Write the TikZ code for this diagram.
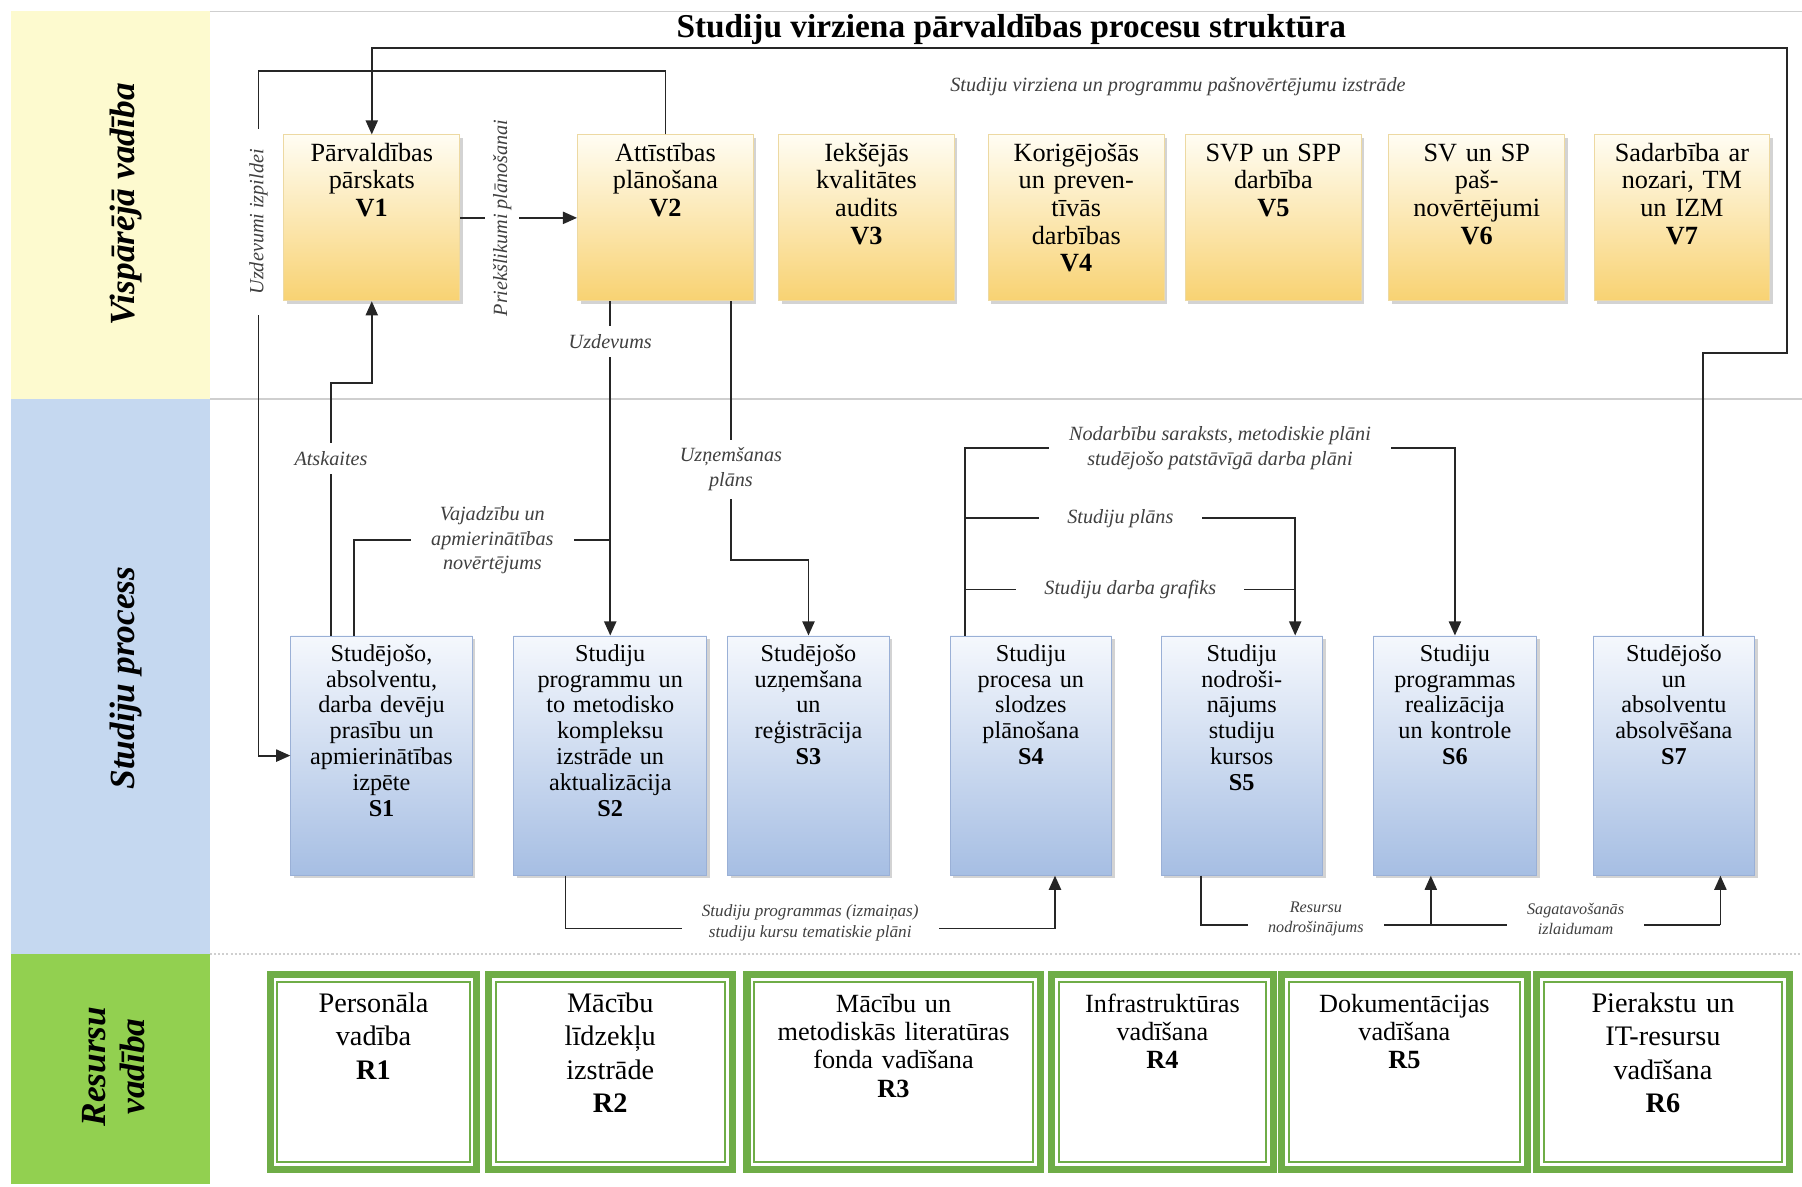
\documentclass[tikz,border=0pt]{standalone}
\usepackage{fontspec}
\setmainfont{Liberation Serif}
\usepackage{tikz}
\usetikzlibrary{positioning}
\usetikzlibrary{shadows}
\usetikzlibrary{arrows.meta}
\definecolor{bandY}{HTML}{FDFACF}
\definecolor{bandB}{HTML}{C5D8F0}
\definecolor{bandG}{HTML}{92D050}
\definecolor{vtop}{HTML}{FFFDF3}
\definecolor{vbot}{HTML}{F8D272}
\definecolor{vline}{HTML}{EDD9A2}
\definecolor{stop}{HTML}{F5F8FD}
\definecolor{sbot}{HTML}{A6BEE3}
\definecolor{sline}{HTML}{9AB0D6}
\definecolor{rgreen}{HTML}{6FAD47}
\definecolor{lbltext}{HTML}{404040}
\definecolor{sepc}{HTML}{CFCFCF}

\begin{document}
\begin{tikzpicture}[x=0.2mm, y=-0.2mm,
	vbox/.style={draw=vline, top color=vtop, bottom color=vbot, drop shadow={shadow xshift=1.5pt, shadow yshift=-1.5pt, opacity=0.35}, anchor=north, minimum width=3.06cm, text width=2.8cm, align=center, inner sep=3pt, text height=10.1pt, text depth=66.1pt, font=\fontsize{13}{13.7}\selectfont},
	sbox/.style={draw=sline, top color=stop, bottom color=sbot, drop shadow={shadow xshift=1.5pt, shadow yshift=-1.5pt, opacity=0.35}, anchor=north, minimum width=2.74cm, text width=2.6cm, align=center, inner sep=3pt, text height=9.5pt, text depth=103pt, font=\fontsize{12}{12.8}\selectfont},
	rbox/.style={draw=rgreen, line width=3.5pt, fill=white, anchor=north, text width=3.2cm, align=center, inner sep=4pt, text height=14.7pt, text depth=73.7pt, font=\fontsize{13}{14}\selectfont, path picture={\draw[rgreen, line width=0.9pt] ([shift={(3.6pt,3.6pt)}]path picture bounding box.south west) rectangle ([shift={(-3.6pt,-3.6pt)}]path picture bounding box.north east);}},
	rbig/.style={font=\fontsize{14}{16.5}\selectfont},
	lbl/.style={font=\fontsize{10}{12}\selectfont\itshape, text=lbltext, fill=white, align=center, inner xsep=10pt, inner ysep=4pt},
	lblsm/.style={lbl, font=\fontsize{8.5}{10.5}\selectfont\itshape},
	bandlbl/.style={font=\fontsize{17.5}{19}\selectfont\bfseries\itshape, align=center},
	wire/.style={draw=black!85, line width=0.9pt},
	arr/.style={-{Triangle[length=7pt, width=6pt]}}]
	\useasboundingbox (0,0) rectangle (1568,1032);
	\fill[bandY] (10,10) rectangle (183,347);
	\fill[bandB] (10,347) rectangle (183,830);
	\fill[bandG] (10,830) rectangle (183,1030);
	\draw[sepc] (183,10) -- (1568,10);
	\draw[sepc, line width=1pt] (183,347) -- (1568,347);
	\draw[sepc, line width=1pt, densely dotted] (183,830) -- (1568,830);
	\node[bandlbl, rotate=90] (bandV) at (110,178) {Vispārējā vadība};
	\node[bandlbl, rotate=90] (bandS) at (110,590) {Studiju process};
	\node[bandlbl, rotate=90] (bandR) at (99,928) {Resursu\\vadība};
	\node[font=\fontsize{16.5}{19}\selectfont\bfseries] (title) at (880,26) {Studiju virziena pārvaldības procesu struktūra};

	\node[vbox] (V1) at (323.5,117) {Pārvaldības\\pārskats\\\textbf{V1}};
	\node[vbox] (V2) at (579,117) {Attīstības\\plānošana\\\textbf{V2}};
	\node[vbox] (V3) at (754,117) {Iekšējās\\kvalitātes\\audits\\\textbf{V3}};
	\node[vbox] (V4) at (936.5,117) {Korigējošās\\un preven-\\tīvās\\darbības\\\textbf{V4}};
	\node[vbox] (V5) at (1108,117) {SVP un SPP\\darbība\\\textbf{V5}};
	\node[vbox] (V6) at (1285,117) {SV un SP\\paš-\\novērtējumi\\\textbf{V6}};
	\node[vbox] (V7) at (1463.5,117) {Sadarbība ar\\nozari, TM\\un IZM\\\textbf{V7}};

	\node[sbox, minimum width=3.16cm, text width=2.9cm] (S1) at (332,553) {Studējošo,\\absolventu,\\darba devēju\\prasību un\\apmierinātības\\izpēte\\\textbf{S1}};
	\node[sbox, minimum width=3.36cm, text width=3.1cm] (S2) at (531,553) {Studiju\\programmu un\\to metodisko\\kompleksu\\izstrāde un\\aktualizācija\\\textbf{S2}};
	\node[sbox] (S3) at (703.5,553) {Studējošo\\uzņemšana\\un\\reģistrācija\\\textbf{S3}};
	\node[sbox] (S4) at (897,553) {Studiju\\procesa un\\slodzes\\plānošana\\\textbf{S4}};
	\node[sbox] (S5) at (1080.5,553) {Studiju\\nodroši-\\nājums\\studiju\\kursos\\\textbf{S5}};
	\node[sbox, minimum width=2.84cm] (S6) at (1266,553) {Studiju\\programmas\\realizācija\\un kontrole\\\textbf{S6}};
	\node[sbox] (S7) at (1456.5,553) {Studējošo\\un\\absolventu\\absolvēšana\\\textbf{S7}};

	\node[rbox, rbig, minimum width=3.6cm] (R1) at (325,845) {Personāla\\vadība\\\textbf{R1}};
	\node[rbox, rbig, minimum width=4.24cm] (R2) at (531,845) {Mācību\\līdzekļu\\izstrāde\\\textbf{R2}};
	\node[rbox, minimum width=5.1cm, text width=4.6cm] (R3) at (777.5,845) {Mācību un\\metodiskās literatūras\\fonda vadīšana\\\textbf{R3}};
	\node[rbox, minimum width=3.86cm] (R4) at (1011.5,845) {Infrastruktūras\\vadīšana\\\textbf{R4}};
	\node[rbox, minimum width=4.28cm] (R5) at (1222,845) {Dokumentācijas\\vadīšana\\\textbf{R5}};
	\node[rbox, rbig, minimum width=4.4cm] (R6) at (1447,845) {Pierakstu un\\IT-resursu\\vadīšana\\\textbf{R6}};

	\coordinate (loopB) at (1482,307);
	\coordinate (loopR) at (1555,307);
	\coordinate (loopT) at (1555,42);
	\coordinate (taskC) at (225,62);
	\coordinate (repC) at (288,333);
	\coordinate (needC) at (308,470);
	\coordinate (admC) at (636,487);
	\coordinate (planC) at (840,390);
	\coordinate (planS5) at (1127,451);
	\coordinate (schedC) at (1127,513);
	\coordinate (progC) at (492,808);
	\coordinate (progS4) at (918,808);
	\coordinate (resC) at (1045,805);
	\coordinate (resS6) at (1245,805);
	\coordinate (resS7) at (1497,805);

	\draw[wire, arr] (loopB |- S7.north) -- (loopB) -- (loopR) -- (loopT) -| (V1.north);
	\node[lbl] (selfev) at (1025,75) {Studiju virziena un programmu pašnovērtējumu izstrāde};
	\draw[wire, arr] (V2.north) |- (taskC) -- node[lbl, rotate=90, pos=0.22] (taskL) {Uzdevumi izpildei} (taskC |- S1.west) -- (S1.west);
	\draw[wire, arr] (V1.east) -- node[lbl, rotate=90, pos=0.36] (propL) {Priekšlikumi plānošanai} (V2.west);
	\draw[wire, arr] (repC |- S1.north) -- node[lbl, pos=0.7] (repL) {Atskaites} (repC) -| (V1.south);
	\draw[wire] (needC |- S1.north) |- node[lbl, pos=0.77] (needL) {Vajadzību un\\apmierinātības\\novērtējums} (S2.north |- needC);
	\draw[wire, arr] (S2.north |- V2.south) -- node[lbl, pos=0.12] (taskL2) {Uzdevums} (S2.north);
	\draw[wire, arr] (admC |- V2.south) -- node[lbl, pos=0.65] (admL) {Uzņemšanas\\plāns} (admC) -| (S3.north);
	\draw[wire, arr] (planC |- S4.north) -- (planC) -| node[lbl, pos=0.26] (planL) {Nodarbību saraksts, metodiskie plāni\\studējošo patstāvīgā darba plāni} (S6.north);
	\draw[wire, arr] (planC |- planS5) -- node[lbl, pos=0.47, inner xsep=14pt] (studL) {Studiju plāns} (planS5) -- (planS5 |- S5.north);
	\draw[wire] (planC |- schedC) -- node[lbl, inner xsep=14pt] (schedL) {Studiju darba grafiks} (schedC);
	\draw[wire, arr] (progC |- S2.south) -- (progC) -- node[lblsm, yshift=3pt] (progL) {Studiju programmas (izmaiņas)\\studiju kursu tematiskie plāni} (progS4) -- (progS4 |- S4.south);
	\draw[wire] (resC |- S5.south) -- (resC) -- node[lblsm, yshift=3pt, font=\fontsize{8}{10}\selectfont\itshape] (resL) {Resursu\\nodrošinājums} (resS6) -- node[lblsm, yshift=3pt, font=\fontsize{8}{10}\selectfont\itshape] (gradL) {Sagatavošanās\\izlaidumam} (resS7);
	\draw[wire, arr] (resS6) -- (resS6 |- S6.south);
	\draw[wire, arr] (resS7) -- (resS7 |- S7.south);
\end{tikzpicture}
\end{document}
